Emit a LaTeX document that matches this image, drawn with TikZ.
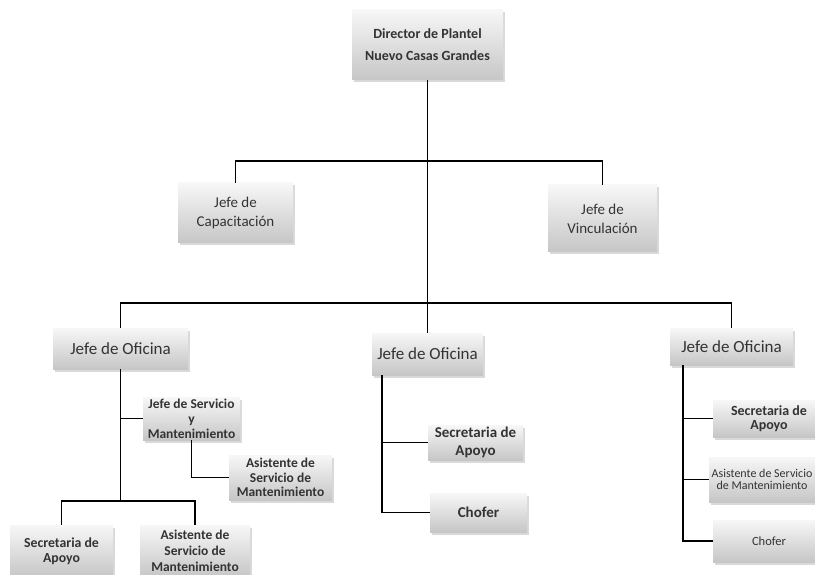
\documentclass[tikz,border=0pt]{standalone}
\usepackage{fontspec}
\setmainfont{Carlito}
\usetikzlibrary{shadows}
\definecolor{txt}{HTML}{333333}
\definecolor{boxtop}{HTML}{F7F7F7}
\definecolor{boxbot}{HTML}{C6C6C6}
\tikzset{
  orgbox/.style={inner sep=1pt, align=center, text=txt,
    top color=boxtop, bottom color=boxbot, draw=none,
    drop shadow={opacity=0.3, shadow xshift=1.5pt, shadow yshift=-2.5pt, fill=gray}},
  link/.style={line width=1.6pt, black}
}
\begin{document}
\begin{tikzpicture}[x=1pt,y=-1pt]
\useasboundingbox (0,0) rectangle (815,575);
% top level
\node[orgbox, minimum width=151pt, minimum height=70pt, font=\fontsize{14}{22}\selectfont\bfseries] (dir) at (427.5,45) {Director de Plantel\\Nuevo Casas Grandes};
\node[orgbox, minimum width=115pt, minimum height=60pt, font=\fontsize{15}{19}\selectfont] (cap) at (235.5,213) {Jefe de\\Capacitación};
\node[orgbox, minimum width=109pt, minimum height=67pt, font=\fontsize{15}{19}\selectfont] (vin) at (602.5,218.5) {Jefe de\\Vinculación};
% oficinas
\node[orgbox, minimum width=135pt, minimum height=41pt, font=\fontsize{17}{20}\selectfont] (of1) at (120.5,348.5) {Jefe de Oficina};
\node[orgbox, minimum width=111pt, minimum height=42pt, font=\fontsize{17}{20}\selectfont] (of2) at (427.5,354) {Jefe de Oficina};
\node[orgbox, minimum width=123pt, minimum height=37pt, font=\fontsize{17}{20}\selectfont] (of3) at (731.5,346.5) {Jefe de Oficina};
% left branch
\node[orgbox, minimum width=97pt, minimum height=43pt, font=\fontsize{13.5}{15}\selectfont\bfseries] (jsm) at (191.5,418.5) {Jefe de Servicio\\y\\Mantenimiento};
\node[orgbox, minimum width=103pt, minimum height=45pt, font=\fontsize{13.5}{14.5}\selectfont\bfseries] (asm1) at (280.5,477.5) {Asistente de\\Servicio de\\Mantenimiento};
\node[orgbox, minimum width=103pt, minimum height=52pt, font=\fontsize{13.8}{15}\selectfont\bfseries] (sec1) at (61.5,551) {Secretaria de\\Apoyo};
\node[orgbox, minimum width=110pt, minimum height=52pt, font=\fontsize{13.5}{16}\selectfont\bfseries] (asm2) at (195,551) {Asistente de\\Servicio de\\Mantenimiento};
% middle branch
\node[orgbox, minimum width=95pt, minimum height=35pt, font=\fontsize{15}{18}\selectfont\bfseries] (sec2) at (475.5,442.5) {Secretaria de\\Apoyo};
\node[orgbox, minimum width=97pt, minimum height=39pt, font=\fontsize{15}{18}\selectfont\bfseries] (cho2) at (478.5,512.5) {Chofer};
% right branch
\node[orgbox, minimum width=112pt, minimum height=37pt, font=\fontsize{14}{14}\selectfont\bfseries] (sec3) at (769,418.5) {Secretaria de\\Apoyo};
\node[orgbox, minimum width=112pt, minimum height=45pt, font=\fontsize{12}{12}\selectfont] (asm3) at (765,479.5) {};
\node[font=\fontsize{12}{12}\selectfont, text=txt, align=center, inner sep=0pt] (asm3t) at (762,479.5) {Asistente de Servicio\\de Mantenimiento};
\node[orgbox, minimum width=112pt, minimum height=42pt, font=\fontsize{12.5}{14}\selectfont] (cho3) at (769,541) {Chofer};
% junctions
\coordinate (j1) at (427.5,161);
\coordinate (j2) at (427.5,303);
\coordinate (b1) at (120.5,501);
\coordinate (m1) at (382,375);
\coordinate (r1) at (683,365);
% connectors
\draw[link] (dir.south) -- (j2);
\draw[link] (cap.north) |- (j1) -| (vin.north);
\draw[link] (of1.north) |- (j2) -| (of3.north);
\draw[link] (j2) -- (of2.north);
\draw[link] (of1.south) -- (b1);
\draw[link] (jsm.west -| b1) -- (jsm.west);
\draw[link] (jsm.south) |- (asm1.west);
\draw[link] (sec1.north) |- (b1) -| (asm2.north);
\draw[link] (m1) |- (cho2.west);
\draw[link] (m1 |- sec2.west) -- (sec2.west);
\draw[link] (r1) |- (cho3.west);
\draw[link] (r1 |- sec3.west) -- (sec3.west);
\draw[link] (r1 |- asm3.west) -- (asm3.west);
\end{tikzpicture}
\end{document}
